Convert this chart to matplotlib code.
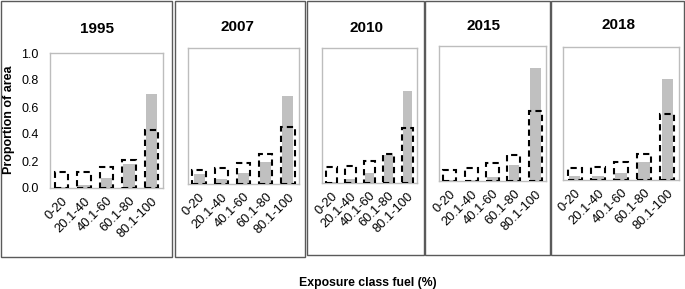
import matplotlib
matplotlib.use("Agg")
import matplotlib.pyplot as plt
from matplotlib.patches import Rectangle

# exposure classes
categories = ['0-20', '20.1-40', '40.1-60', '60.1-80', '80.1-100']
years = ['1995', '2007', '2010', '2015', '2018']

# grey filled bars
grey_1995 = [0.01, 0.025, 0.075, 0.18, 0.70]
grey_2007 = [0.075, 0.04, 0.08, 0.16, 0.65]
grey_2010 = [0.01, 0.03, 0.075, 0.205, 0.68]
grey_2015 = [0.005, 0.005, 0.03, 0.115, 0.84]
grey_2018 = [0.03, 0.03, 0.055, 0.135, 0.76]

# dashed outline bars
dash_1995 = [0.115, 0.115, 0.155, 0.21, 0.43]
dash_2007 = [0.105, 0.115, 0.155, 0.22, 0.42]
dash_2010 = [0.115, 0.125, 0.165, 0.215, 0.41]
dash_2015 = [0.08, 0.095, 0.13, 0.19, 0.52]
dash_2018 = [0.09, 0.10, 0.135, 0.195, 0.50]

grey_all = [grey_1995, grey_2007, grey_2010, grey_2015, grey_2018]
dash_all = [dash_1995, dash_2007, dash_2010, dash_2015, dash_2018]

W, H = 685, 289
fig = plt.figure(figsize=(W / 100, H / 100), dpi=100)
plt.rcParams['font.family'] = ['Liberation Sans', 'DejaVu Sans']

# pixel boxes: inner axes (left, right, top, bottom), outer frame (x0, x1, y0, y1), title pos
inner = [(50, 163, 53, 188), (188, 299, 48, 184), (322, 417, 48, 183),
         (439, 546, 46, 181), (563, 679, 47, 180)]
outer = [(1, 172, 1, 257), (174.5, 305, 1, 257), (307, 424, 1, 255),
         (424.5, 550, 1, 255), (551, 684, 1, 255)]
title_xy = [(97, 29), (237, 27), (367, 28), (483, 26), (619, 25)]

for i in range(5):
    x0, x1, y0, y1 = outer[i]
    fig.add_artist(Rectangle((x0 / W, 1 - y1 / H), (x1 - x0) / W, (y1 - y0) / H,
                             transform=fig.transFigure, fill=False,
                             edgecolor='#5a5a5a', linewidth=1.0))

    l, r, t, b = inner[i]
    ax = fig.add_axes([l / W, 1 - b / H, (r - l) / W, (b - t) / H])
    xs = range(len(categories))
    ax.bar(xs, grey_all[i], width=0.5, color='#c0c0c0', zorder=2)
    ax.bar(xs, dash_all[i], width=0.6, fill=False, edgecolor='black',
           linewidth=1.5, linestyle=(0, (3, 2)), zorder=3)
    ax.set_xlim(-0.5, 4.5)
    ax.set_ylim(0, 1.0)
    ax.set_xticks(list(xs))
    ax.set_xticklabels(categories, rotation=45, ha='right',
                       rotation_mode='anchor', fontsize=9.3)
    ax.tick_params(axis='x', length=0, pad=5)
    for s in ax.spines.values():
        s.set_color('#bdbdbd')
        s.set_linewidth(1.0)
    if i == 0:
        ax.set_yticks([0, 0.2, 0.4, 0.6, 0.8, 1.0])
        ax.set_yticklabels(['0.0', '0.2', '0.4', '0.6', '0.8', '1.0'], fontsize=9)
        ax.tick_params(axis='y', length=0, pad=8)
    else:
        ax.set_yticks([])

    tx, ty = title_xy[i]
    fig.text(tx / W, 1 - ty / H, years[i], ha='center', va='center',
             fontsize=11, fontweight='bold')

fig.text(9 / W, 1 - 120 / H, 'Proportion of area', rotation=90,
         ha='center', va='center', fontsize=9, fontweight='bold')
fig.text(368 / W, 1 - 283 / H, 'Exposure class fuel (%)',
         ha='center', va='center', fontsize=8.8, fontweight='bold')

fig.savefig('out.png', dpi=100)
